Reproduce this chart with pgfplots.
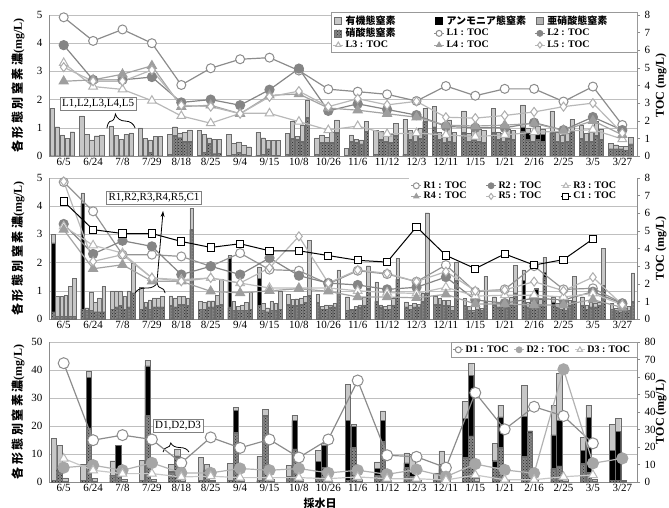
\documentclass[border=0pt]{standalone}
\usepackage{fontspec}
\setmainfont{Liberation Serif}
\newfontfamily\jp{Noto Sans CJK JP}
\usepackage{pgfplots}
\usepackage{pgfplotstable}
\pgfplotsset{compat=1.18}
\usetikzlibrary{patterns,decorations.pathreplacing,arrows.meta}

\definecolor{orgc}{gray}{0.78}
\definecolor{nitc}{gray}{0.70}
\definecolor{hatc}{gray}{0.52}
\definecolor{edgec}{gray}{0.42}

% ---------- nitrogen species (mg/L): nitrate N, nitrite P, ammonium A, organic O ----------
% upstream sites L1-L5
\pgfplotstableread{
i N P A O
0 0 0 0 1.70
1 0 0 0 1.42
2 0 0 0 1.07
3 0 0 0 1.00
4 0.05 0 0 0.71
5 0.03 0 0 0.87
6 0.02 0 0 0.74
7 0.02 0 0 0.82
8 0.05 0 0 0.75
9 0.05 0 0 0.59
10 0.03 0 0 0.25
11 0.05 0 0 0.85
12 0.05 0 0 1.25
13 1.00 0.03 0 0.74
14 0.80 0.03 0 0.77
15 0.80 0.03 0 0.86
16 0.85 0.03 0.15 0.78
17 0.80 0.03 0 0.77
18 0.60 0.03 0 0.47
19 0.25 0 0 0.20
}\tLa
\pgfplotstableread{
i N P A O
0 0 0 0 1.04
1 0 0 0 0.78
2 0 0 0 0.73
3 0 0 0 0.62
4 0.70 0.03 0 0.31
5 0.12 0 0 0.66
6 0.05 0 0 0.40
7 0.05 0 0 0.60
8 0.60 0.03 0 0.59
9 0.45 0.03 0 0.27
10 0.50 0.03 0 0.22
11 0.55 0.03 0 0.30
12 0.55 0.03 0 0.34
13 0.55 0.03 0 0.27
14 0.50 0.03 0 0.27
15 0.55 0.03 0 0.27
16 0.55 0.03 0.25 0.17
17 0.50 0.03 0 0.32
18 0.50 0.03 0 0.27
19 0.25 0 0 0.15
}\tLb
\pgfplotstableread{
i N P A O
0 0 0 0 0.75
1 0 0 0 0.57
2 0 0 0 0.60
3 0.12 0 0 0.45
4 0.62 0.03 0 0.17
5 0.42 0.03 0 0.20
6 0.12 0 0 0.38
7 0.25 0 0 0.30
8 0.55 0.03 0 0.12
9 0.45 0.03 0 0.19
10 0.45 0.03 0 0.12
11 0.50 0.03 0 0.27
12 0.50 0.03 0 0.22
13 0.45 0.03 0 0.22
14 0.55 0.03 0 0.47
15 0.50 0.03 0 0.27
16 0.50 0.03 0 0.27
17 0.45 0.03 0 0.27
18 0.50 0.03 0 0.33
19 0.25 0 0 0.10
}\tLc
\pgfplotstableread{
i N P A O
0 0 0 0 0.63
1 0 0 0 0.72
2 0 0 0 0.78
3 0 0 0 0.70
4 0.48 0.03 0 0.34
5 0.08 0 0 0.50
6 0.05 0 0 0.33
7 0.03 0 0 0.52
8 0.50 0.03 0 0.58
9 0.45 0.03 0 0.38
10 0.40 0.03 0 0.14
11 0.45 0.03 0 0.30
12 0.60 0.03 0 0.37
13 0.50 0.03 0 0.75
14 0.50 0.03 0 0.42
15 0.60 0.03 0 0.32
16 0.55 0.03 0.20 0.27
17 0.50 0.03 0 0.27
18 0.70 0.03 0 0.49
19 0.20 0 0 0.15
}\tLd
\pgfplotstableread{
i N P A O
0 0 0 0 0.86
1 0 0 0 0.75
2 0 0 0 0.82
3 0 0 0 0.70
4 0.48 0.03 0 0.42
5 0.10 0 0 0.48
6 0.03 0 0 0.30
7 0.03 0 0 0.52
8 1.35 0.03 0 0.61
9 0.80 0.03 0 0.45
10 0.85 0.03 0 0.34
11 0.70 0.03 0 0.42
12 1.20 0.03 0 0.47
13 0.45 0.03 0 0.37
14 0.45 0.03 0 0.42
15 0.55 0.03 0 0.32
16 0.50 0.03 0.25 0.17
17 0.85 0.03 0 0.42
18 0.55 0.03 0 0.37
19 0.40 0.03 0 0.24
}\tLe

% river sites R1-R5 and C1
\pgfplotstableread{
i N P A O
0 0.25 0 2.45 0.30
1 0.35 0 3.75 0.37
2 0.35 0 0 0.65
3 0.35 0 0 0.77
4 0.45 0.03 0 0.34
5 0.35 0 0 0.27
6 0.40 0.03 1.72 0.10
7 0.45 0.03 0.97 0.40
8 0.50 0.03 0 0.35
9 0.55 0.03 0 0.30
10 0.30 0 0 0.49
11 0.60 0.03 0 0.69
12 0.40 0.03 0 0.18
13 0.50 0.03 0 0.29
14 0.45 0.03 0 0.25
15 0.50 0.03 0 0.26
16 0.67 0.03 0.68 0.36
17 0.44 0.03 0.14 0.16
18 0.45 0.03 0 0.31
19 0.35 0 0 0.21
}\tRa
\pgfplotstableread{
i N P A O
0 0.10 0 0 0.70
1 0.30 0 0 0.10
2 0.40 0.03 0 0.57
3 0.40 0.03 0 0.15
4 0.40 0.03 0 0.32
5 0.35 0 0 0.25
6 0.30 0 0 0.32
7 0.30 0 0 0.25
8 0.45 0.03 0 0.22
9 0.35 0 0 0.10
10 0.30 0 0 0.05
11 0.40 0.03 0 0.07
12 0.35 0 0 0.15
13 0.50 0.03 0 0.20
14 0.30 0 0 0.14
15 0.40 0.03 0 0.12
16 0.40 0.03 0 0.18
17 0.40 0.03 0 0.12
18 0.35 0 0 0.15
19 0.30 0 0 0.08
}\tRb
\pgfplotstableread{
i N P A O
0 0.10 0 0 0.70
1 0.30 0 0 0.65
2 0.45 0.03 0 0.52
3 0.35 0 0 0.33
4 0.50 0.03 0 0.27
5 0.40 0.03 0 0.22
6 0.30 0 0 0.15
7 0.25 0 0 0.15
8 0.45 0.03 0 0.24
9 0.35 0 0 0.15
10 0.35 0 0 0.09
11 0.35 0 0 0.09
12 0.40 0.03 0 0.12
13 0.45 0.03 0 0.19
14 0.25 0 0 0.07
15 0.45 0.03 0 0.19
16 0.45 0.03 0 0.19
17 0.35 0 0 0.15
18 0.40 0.03 0 0.18
19 0.25 0 0 0.07
}\tRc
\pgfplotstableread{
i N P A O
0 0.10 0 0 0.73
1 0.25 0 0 0.35
2 0.35 0 0 0.45
3 0.40 0.03 0 0.32
4 0.50 0.03 0 0.27
5 0.40 0.03 0 0.22
6 0.30 0 0 0.20
7 0.30 0 0 0.32
8 0.50 0.03 0 0.22
9 0.40 0.03 0 0.07
10 0.40 0.03 0 0.07
11 0.35 0 0 0.15
12 0.40 0.03 0 0.09
13 0.45 0.03 0 0.19
14 0.35 0 0 0.15
15 0.40 0.03 0 0.10
16 0.73 0.03 0.29 0.04
17 0.30 0 0 0.14
18 0.40 0.03 0 0.12
19 0.30 0 0 0.08
}\tRd
\pgfplotstableread{
i N P A O
0 0.10 0 0 1.05
1 0.25 0 0 0.50
2 0.40 0.03 0 0.57
3 0.40 0.03 0 0.32
4 0.45 0.03 0 0.27
5 0.45 0.03 0 0.37
6 0.30 0 0 0.28
7 0.30 0 0 0.25
8 0.55 0.03 0 0.22
9 0.40 0.03 0 0.12
10 0.45 0.03 0 0.29
11 0.45 0.03 0 0.25
12 0.60 0.03 0 0.28
13 0.30 0 0 0.14
14 0.30 0 0 0.08
15 0.50 0.03 0 0.26
16 0.50 0.03 0 0.17
17 0.45 0.03 0 0.19
18 0.45 0.03 0 0.13
19 0.30 0 0 0.14
}\tRe
\pgfplotstableread{
i N P A O
0 0.10 0 0 1.35
1 0.25 0 0 0.90
2 0.90 0.03 0 1.04
3 0.40 0.03 0 0.37
4 3.15 0.03 0 0.75
5 0.50 0.03 0 0.89
6 0.35 0 0 0.60
7 0.35 0 0 0.63
8 0.80 0.03 0 1.97
9 0.90 0.03 0 0.81
10 1.05 0.03 0 0.81
11 1.38 0.03 0 0.74
12 0.90 0.03 0 2.84
13 1.35 0.03 0 0.65
14 0.60 0.03 0 0.89
15 0.90 0.03 0 0.98
16 1.45 0.03 0.17 0.54
17 0.60 0.03 0 0.89
18 1.17 0.03 0 1.30
19 0.60 0.03 0 1.01
}\tC

% drainage sites D1-D3
\pgfplotstableread{
i N P A O
0 0.5 0 0 15.0
1 0.5 0 0 5.7
2 2.5 0 0 5.1
3 0.5 0 0 7.3
4 3.5 0.3 0 2.5
5 0.5 0 0 8.4
6 0.5 0 0 6.1
7 0.5 0 0 8.7
8 2.0 0 0 4.0
9 1.5 0 6.0 3.9
10 0.5 0 21.5 13.0
11 2.5 0 2.5 2.2
12 5.0 0.3 1.5 3.6
13 0.5 0 0.5 2.3
14 8.5 0.3 13.9 6.2
15 4.9 0.3 2.4 6.2
16 8.8 0.3 14.3 11.2
17 4.5 0.3 12.0 10.7
18 6.4 0.3 4.7 4.6
19 0.7 0 10.7 9.2
}\tDa
\pgfplotstableread{
i N P A O
0 3.5 0.3 0.5 8.9
1 19.0 0.3 18.2 2.2
2 4.0 0.3 8.7 0.2
3 23.5 0.3 17.7 1.9
4 9.0 0.3 0 2.3
5 4.0 0.3 0 2.0
6 17.5 0.3 7.7 1.2
7 23.5 0.3 0 2.2
8 11.5 0.3 10.2 1.9
9 5.0 0.3 7.7 0.8
10 12.0 0.3 7.7 0.6
11 14.3 0.3 7.4 3.4
12 2.0 0 1.5 6.4
13 4.3 0.3 1.8 4.7
14 16.2 0.3 21.5 4.4
15 12.0 0.3 11.0 4.2
16 17.3 0.3 0.7 0.0
17 5.5 0.3 16.3 16.7
18 3.1 0.3 19.7 4.4
19 0.7 0 17.3 4.7
}\tDb
\pgfplotstableread{
i N P A O
0 0.3 0 0 1.2
1 0.3 0 0 0.9
2 0.3 0 0 0.7
3 0.3 0 0 0.7
4 0.3 0 0 0.7
5 0.3 0 0 0.5
6 0.3 0 0 0.7
7 0.3 0 0 0.7
8 0.3 0 0 0.7
9 0.3 0 0 0.5
10 0.3 0 0 0.7
11 0.3 0 0 0.5
12 0.3 0 0 0.5
13 0.3 0 0 0.2
14 0.3 0 0 1.2
15 0.3 0 0 0.5
16 0.3 0 0 0.7
17 0.3 0 0 0.7
18 0.3 0 0 0.7
19 0.3 0 0 0.2
}\tDc

% ---------- TOC (mg/L) ----------
\pgfplotstableread{
i L1 L2 L3 L4 L5
0 7.87 6.29 5.28 4.24 5.04
1 6.53 4.32 3.94 4.32 4.24
2 7.18 4.32 3.78 4.64 4.24
3 6.40 4.48 3.14 5.12 4.88
4 4.03 3.04 2.27 2.80 2.88
5 4.98 3.20 1.86 2.88 2.80
6 5.49 2.88 2.42 2.40 2.40
7 5.58 3.76 2.42 3.44 3.36
8 4.85 4.96 1.95 3.52 3.68
9 3.79 2.56 1.47 2.72 2.80
10 3.65 2.96 1.70 2.60 3.25
11 3.50 2.64 1.25 2.40 2.90
12 3.12 2.32 1.30 2.20 3.10
13 3.97 1.68 1.20 1.75 2.20
14 3.42 1.60 1.10 1.70 2.15
15 3.81 1.60 1.20 1.75 2.30
16 3.81 1.89 1.35 1.85 2.50
17 3.09 1.47 1.40 1.45 2.80
18 3.94 2.21 1.50 2.00 3.00
19 1.76 1.47 0.96 1.20 1.30
}\tocL
\pgfplotstableread{
i R1 R2 R3 R4 R5 C1
0 7.77 5.39 5.26 5.07 7.81 6.67
1 6.11 3.69 4.18 2.85 3.27 5.07
2 3.65 4.44 3.74 3.08 3.65 4.85
3 3.65 4.12 2.33 2.14 2.33 4.85
4 3.55 2.52 2.23 2.14 2.14 4.40
5 2.99 2.99 2.33 1.57 2.33 4.06
6 3.74 2.52 2.04 1.48 2.04 4.27
7 2.80 3.46 1.76 1.60 2.90 3.87
8 2.74 2.46 1.76 1.72 4.69 3.87
9 1.99 2.04 1.76 1.57 2.04 3.60
10 2.74 1.93 1.60 1.25 2.78 3.33
11 2.55 1.68 1.50 1.25 2.59 3.23
12 2.12 1.80 1.45 1.20 2.12 5.23
13 3.06 2.38 1.80 1.40 2.69 3.61
14 1.55 1.08 1.30 0.85 1.60 2.86
15 1.68 0.90 1.35 0.85 1.65 3.69
16 3.00 1.18 1.35 0.80 2.12 3.06
17 1.68 1.08 1.25 0.80 1.60 3.37
18 1.74 1.55 1.45 1.10 2.37 4.54
19 0.90 0.87 0.80 0.65 0.81 nan
}\tocR
\pgfplotstableread{
i D1 D2 D3
0 67.9 8.2 13.4
1 23.9 9.6 6.7
2 26.8 6.7 4.8
3 24.3 10.9 4.8
4 10.9 5.2 2.9
5 25.5 5.2 3.3
6 19.5 7.7 2.5
7 24.3 6.7 2.5
8 14.0 7.7 2.5
9 24.3 5.2 1.9
10 58.0 6.7 2.9
11 15.3 4.4 1.9
12 14.4 7.1 1.9
13 8.2 3.0 1.1
14 51.0 10.3 4.0
15 30.1 6.9 1.3
16 43.0 5.0 1.3
17 37.7 64.4 3.0
18 22.1 10.7 4.0
19 nan 13.5 nan
}\tocD

\newcommand\ticks{\fontsize{11}{13}\selectfont}
\newcommand\yjp{{\jp\bfseries 各\kern2.5pt 形\kern2.5pt 態\kern2.5pt 別\kern2.5pt 窒\kern2.5pt 素\kern2.5pt 濃}{\bfseries (mg/L)}}

% one stacked bar series: organic on top, then ammonium, nitrite, nitrate at the bottom
\newcommand\stackbars[3]{%
  \addplot[barbase, fill=orgc, bar width=#3] table[x expr=\thisrow{i}+(#2), y expr=\thisrow{N}+\thisrow{P}+\thisrow{A}+\thisrow{O}] {#1};
  \addplot[barbase, fill=black, bar width=#3] table[x expr=\thisrow{i}+(#2), y expr=\thisrow{N}+\thisrow{P}+\thisrow{A}] {#1};
  \addplot[barbase, fill=nitc, bar width=#3] table[x expr=\thisrow{i}+(#2), y expr=\thisrow{N}+\thisrow{P}] {#1};
  \addplot[barbase, fill=hatc, postaction={pattern=crosshatch dots, pattern color=black!85}, bar width=#3] table[x expr=\thisrow{i}+(#2), y expr=\thisrow{N}] {#1};
}

\pgfplotsset{
  barbase/.style={ybar, bar shift=0pt, draw=edgec, line width=0.3pt, forget plot},
  panel/.style={scale only axis, width=588pt, anchor=south west, xmin=-0.5, xmax=19.5,
    /pgf/number format/assume math mode=true, tick label style={font=\ticks}},
  barax/.style={panel, axis x line*=bottom, axis y line*=left,
    xtick={0,...,19},
    xticklabels={6/5,6/24,7/8,7/29,8/18,8/25,9/4,9/15,10/8,10/26,11/6,11/12,12/3,12/11,1/15,1/21,2/16,2/25,3/5,3/27},
    major tick length=0pt, ymajorgrids, grid style={black!25, line width=0.5pt},
    axis line style={black!45, line width=0.6pt},
    yticklabel style={xshift=-3pt}, xticklabel style={yshift=1pt},
    ylabel={\fontsize{12}{14}\selectfont\yjp},
    every axis y label/.style={at={(rel axis cs:0,0.5)}, xshift=-31pt, rotate=90, anchor=center}},
  tocax/.style={panel, axis x line=none, axis y line*=right, xtick=\empty, ymin=0,
    tick align=outside, major tick length=3pt, tick style={black!45, line width=0.5pt},
    axis line style={black!45, line width=0.6pt}, yticklabel style={xshift=1pt},
    unbounded coords=jump,
    ylabel={\fontsize{12}{14}\selectfont\bfseries TOC (mg/L)},
    every axis y label/.style={at={(rel axis cs:1,0.5)}, xshift=24pt, rotate=90, anchor=center},
    legend cell align=left,
    legend image code/.code={\draw[mark repeat=2, mark phase=2, ##1, line width=0.8pt, mark size=3pt] plot coordinates {(0pt,0pt) (5pt,0pt) (10pt,0pt)};},
    legend style={font=\bfseries\fontsize{10}{12}\selectfont, fill=white, inner sep=1.5pt,
      at={(1,1)}, anchor=north east, row sep=-1.5pt}},
  barlegend/.style={legend image code/.code={\draw[##1] (1pt,-3.5pt) rectangle (8pt,3.5pt);}},
  toc/.style={line width=1.2pt, mark size=4.5pt},
}

\newcommand\lbA[1]{\makebox[86pt][l]{#1}}
\newcommand\lbB[1]{\makebox[60pt][l]{#1}}
\newcommand\lbC[1]{\makebox[46pt][l]{#1}}

\begin{document}
\begin{tikzpicture}
\path[use as bounding box] (0,0) rectangle (669pt,507pt);

% ===================== upstream L1-L5 =====================
\begin{axis}[barax, at={(49pt,351pt)}, height=141pt, ymin=0, ymax=5, ytick={0,...,5}]
  \stackbars{\tLa}{-0.39}{4.4pt}
  \stackbars{\tLb}{-0.22}{4.4pt}
  \stackbars{\tLc}{-0.05}{4.4pt}
  \stackbars{\tLd}{0.12}{4.4pt}
  \stackbars{\tLe}{0.29}{4.4pt}
  \node[draw=black!50, fill=white, font=\ticks, inner sep=2pt] at (axis cs:1.17,1.86) {L1,L2,L3,L4,L5};
  \draw[decorate, decoration={brace, amplitude=14pt, aspect=0.3}, line width=0.8pt] (axis cs:1.47,0.99) -- (axis cs:2.43,0.99);
\end{axis}
\begin{axis}[tocax, at={(49pt,351pt)}, height=141pt, ymax=8, ytick={0,...,8}, legend columns=3,
    legend style={draw=black!40, yshift=3pt}]
  \addlegendimage{barlegend, fill=orgc, draw=edgec}
  \addlegendentry{\lbA{\jp 有機態窒素}}
  \addlegendimage{barlegend, fill=black, draw=black}
  \addlegendentry{\lbA{\jp アンモニア態窒素}}
  \addlegendimage{barlegend, fill=nitc, draw=edgec}
  \addlegendentry{\lbA{\jp 亜硝酸態窒素}}
  \addlegendimage{barlegend, fill=hatc, draw=edgec, postaction={pattern=crosshatch dots, pattern color=black!85}}
  \addlegendentry{\lbA{\jp 硝酸態窒素}}
  \addplot[toc, draw=black!45, mark=*, mark options={fill=white, draw=black!45, line width=1pt}] table[x=i, y=L1] {\tocL};
  \addlegendentry{\lbA{L1 : TOC}}
  \addplot[toc, draw=black!48, mark=*, mark options={fill=black!48, draw=black!48}] table[x=i, y=L2] {\tocL};
  \addlegendentry{\lbA{L2 : TOC}}
  \addplot[toc, draw=black!28, mark=triangle*, mark size=5pt, mark options={fill=white, draw=black!30, line width=1pt}] table[x=i, y=L3] {\tocL};
  \addlegendentry{\lbA{L3 : TOC}}
  \addplot[toc, draw=black!36, mark=triangle*, mark size=5pt, mark options={fill=black!38, draw=black!38}] table[x=i, y=L4] {\tocL};
  \addlegendentry{\lbA{L4 : TOC}}
  \addplot[toc, draw=black!28, mark=diamond*, mark options={fill=white, draw=black!32, line width=1pt}] table[x=i, y=L5] {\tocL};
  \addlegendentry{\lbA{L5 : TOC}}
\end{axis}

% ===================== river R1-R5, C1 =====================
\begin{axis}[barax, at={(49pt,188pt)}, height=141pt, ymin=0, ymax=5, ytick={0,...,5}]
  \stackbars{\tRa}{-0.357}{3.6pt}
  \stackbars{\tRb}{-0.214}{3.6pt}
  \stackbars{\tRc}{-0.071}{3.6pt}
  \stackbars{\tRd}{0.071}{3.6pt}
  \stackbars{\tRe}{0.214}{3.6pt}
  \stackbars{\tC}{0.357}{3.6pt}
  \node[draw=black!50, fill=white, font=\ticks, inner sep=2pt] at (axis cs:3.07,4.29) {R1,R2,R3,R4,R5,C1};
  \draw[decorate, decoration={brace, amplitude=10pt, aspect=0.73}, line width=0.8pt] (axis cs:2.43,0.92) -- (axis cs:3.45,0.92);
  \draw[-{Stealth[length=6pt, width=4pt]}, line width=0.8pt] (axis cs:3.17,1.28) -- (axis cs:3.38,3.83);
\end{axis}
\begin{axis}[tocax, at={(49pt,188pt)}, height=141pt, ymax=8, ytick={0,...,8}, legend columns=3,
    legend style={draw=none}]
  \addplot[toc, draw=black!42, mark=*, mark options={fill=white, draw=black!42, line width=1pt}] table[x=i, y=R1] {\tocR};
  \addlegendentry{\lbB{R1 : TOC}}
  \addplot[toc, draw=black!48, mark=*, mark options={fill=black!48, draw=black!48}] table[x=i, y=R2] {\tocR};
  \addlegendentry{\lbB{R2 : TOC}}
  \addplot[toc, draw=black!25, mark=triangle*, mark size=5pt, mark options={fill=white, draw=black!28, line width=1pt}] table[x=i, y=R3] {\tocR};
  \addlegendentry{\lbB{R3 : TOC}}
  \addplot[toc, draw=black!36, mark=triangle*, mark size=5pt, mark options={fill=black!38, draw=black!38}] table[x=i, y=R4] {\tocR};
  \addlegendentry{\lbB{R4 : TOC}}
  \addplot[toc, draw=black!28, mark=diamond*, mark options={fill=white, draw=black!32, line width=1pt}] table[x=i, y=R5] {\tocR};
  \addlegendentry{\lbB{R5 : TOC}}
  \addplot[line width=1pt, draw=black, mark=square*, mark size=3.6pt, mark options={fill=white, draw=black, line width=0.9pt}] table[x=i, y=C1] {\tocR};
  \addlegendentry{\lbB{C1 : TOC}}
\end{axis}

% ===================== drainage D1-D3 =====================
\begin{axis}[barax, at={(49pt,25pt)}, height=140pt, ymin=0, ymax=50, ytick={0,10,...,50}]
  \stackbars{\tDa}{-0.34}{5.4pt}
  \stackbars{\tDb}{-0.145}{5.4pt}
  \stackbars{\tDc}{0.05}{5.4pt}
  \node[draw=black!50, fill=white, font=\ticks, inner sep=2pt] at (axis cs:3.89,20.2) {D1,D2,D3};
  \draw[decorate, decoration={brace, amplitude=9pt, aspect=0.3}, line width=0.8pt] (axis cs:3.38,10.7) -- (axis cs:4.26,10.7);
\end{axis}
\begin{axis}[tocax, at={(49pt,25pt)}, height=140pt, ymax=80, ytick={0,10,...,80}, legend columns=3,
    legend style={draw=black!40}]
  \addplot[toc, draw=black!45, mark=*, mark size=5.5pt, mark options={fill=white, draw=black!45, line width=1pt}] table[x=i, y=D1] {\tocD};
  \addlegendentry{\lbC{D1 : TOC}}
  \addplot[toc, draw=black!30, mark=*, mark size=5.5pt, mark options={fill=black!35, draw=black!35}] table[x=i, y=D2] {\tocD};
  \addlegendentry{\lbC{D2 : TOC}}
  \addplot[toc, draw=black!22, mark=triangle*, mark size=5pt, mark options={fill=white, draw=black!28, line width=1pt}] table[x=i, y=D3] {\tocD};
  \addlegendentry{\lbC{D3 : TOC}}
\end{axis}

\node[font=\fontsize{11}{13}\selectfont\jp\bfseries] at (320pt,4pt) {採水日};
\end{tikzpicture}
\end{document}
